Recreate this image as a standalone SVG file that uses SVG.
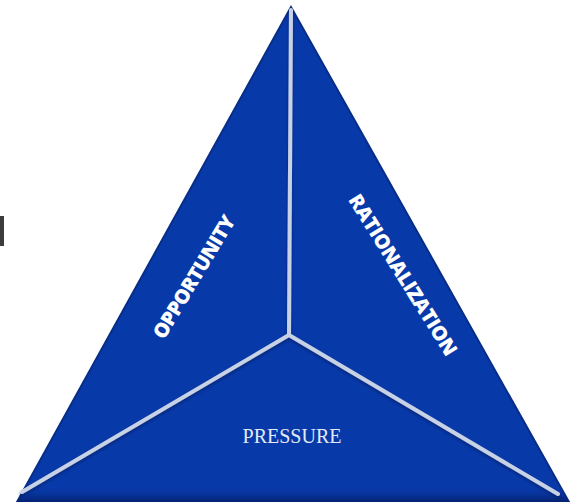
<svg xmlns="http://www.w3.org/2000/svg" width="576" height="502" viewBox="0 0 576 502">
  <defs>
    <clipPath id="triClip">
      <polygon points="291,7 17,502 569,502"/>
    </clipPath>
    <linearGradient id="bottomShade" x1="0" y1="0" x2="0" y2="1">
      <stop offset="0" stop-color="#0a3aa8" stop-opacity="0"/>
      <stop offset="1" stop-color="#03206e"/>
    </linearGradient>
    <filter id="lineShadow" x="-5%" y="-5%" width="110%" height="110%">
      <feGaussianBlur in="SourceAlpha" stdDeviation="1.5"/>
      <feOffset dx="0" dy="2" result="b"/>
      <feFlood flood-color="#001a55" flood-opacity="0.6"/>
      <feComposite in2="b" operator="in"/>
      <feMerge><feMergeNode/><feMergeNode in="SourceGraphic"/></feMerge>
    </filter>
  </defs>
  <style>
    .label { font-family: "Open Sans", "Liberation Sans", sans-serif; font-weight: 800; font-size: 20px; fill: #ffffff; }
    .serif { font-family: "Liberation Serif", "Times New Roman", serif; font-size: 20px; fill: #e4e9f4; }
    .divider { stroke: #c8d2e6; stroke-width: 4; stroke-linecap: round; fill: none; }
  </style>

  <rect x="0" y="216" width="4" height="30" fill="#3c3c3c"/>

  <g id="triangle">
    <polygon points="291,7 17,502 569,502" fill="#0839a9" stroke="#072d88" stroke-width="2"/>
    <rect x="0" y="486" width="576" height="16" fill="url(#bottomShade)" clip-path="url(#triClip)"/>
  </g>

  <g id="connectors" filter="url(#lineShadow)">
    <line class="divider" x1="291" y1="10" x2="289" y2="335"/>
    <line class="divider" x1="289" y1="335" x2="22" y2="492"/>
    <line class="divider" x1="289" y1="335" x2="558" y2="494"/>
  </g>

  <g id="opportunity">
    <text class="label" transform="translate(194,277) rotate(-59)" x="0" y="7" text-anchor="middle" textLength="140" lengthAdjust="spacing">OPPORTUNITY</text>
  </g>

  <g id="rationalization">
    <text class="label" transform="translate(403,275) rotate(58)" x="0" y="7" text-anchor="middle" textLength="186" lengthAdjust="spacing">RATIONALIZATION</text>
  </g>

  <g id="pressure">
    <text class="serif" x="292" y="443" text-anchor="middle">PRESSURE</text>
  </g>
</svg>
